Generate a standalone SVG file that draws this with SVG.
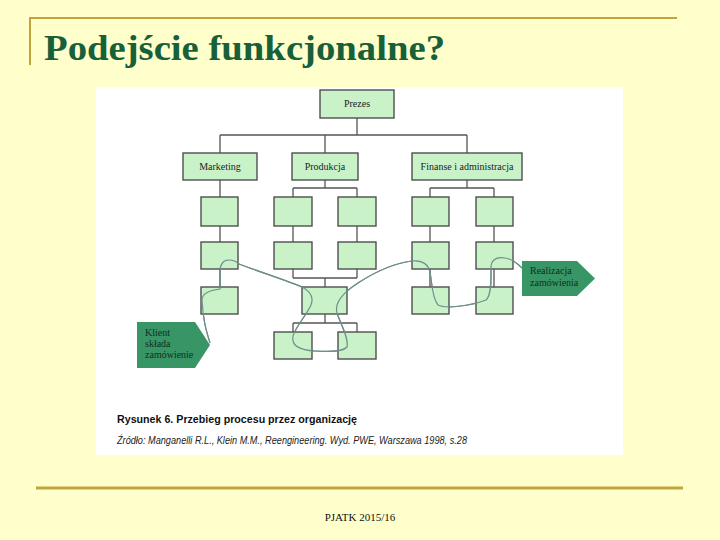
<svg xmlns="http://www.w3.org/2000/svg" width="720" height="540" viewBox="0 0 720 540">
<style>
.bx{fill:#c9f2c9;stroke:#4f4f4f;stroke-width:1.4}
.lbl{font-family:"Liberation Serif",serif;font-size:10px;fill:#222;text-anchor:middle}
.cn{stroke:#555;stroke-width:1.3;fill:none}
.arw{fill:#379566}
.at{font-family:"Liberation Serif",serif;font-size:10px;fill:#10301c}
.gold{stroke:#c3a43c;fill:none}
</style>
<rect width="720" height="540" fill="#ffffcc"/>
<path class="gold" stroke-width="2" d="M30,65 V18 H677"/>
<line class="gold" stroke-width="3" x1="36" y1="488" x2="683" y2="488"/>
<text x="44" y="60" font-family="Liberation Serif,serif" font-weight="bold" font-size="36" fill="#17603a" textLength="401" lengthAdjust="spacingAndGlyphs">Podejście funkcjonalne?</text>
<text x="360" y="521" font-family="Liberation Serif,serif" font-size="11" fill="#111" text-anchor="middle">PJATK 2015/16</text>
<rect x="96" y="87" width="527" height="368" fill="#ffffff"/>
<g id="connectors">
<path class="cn" d="M357,118V135M220,135H467M220,135V153M325,135V153M467,135V153"/>
<path class="cn" d="M220,180V197M220,226V242M220,269V287"/>
<path class="cn" d="M325,180V188M293,188H357M293,188V197M357,188V197M293,226V242M357,226V242M293,269V278M357,269V278M293,278H357M325,278V287M325,314V323M293,323H357M293,323V332M357,323V332"/>
<path class="cn" d="M467,180V188M430,188H494M430,188V197M494,188V197M430,226V242M494,226V242M430,269V287M494,269V287"/>
<path id="process" fill="none" stroke="#6f8f8c" stroke-width="1.2" d="M210,343 C206,330 203,320 202,300 C202,293 212,290 220,289 L220,272 C220,264 223,260 229,260 C234,260 237,262 239,264 C260,272 285,280 302,287 C310,291 314,297 311,305 C306,316 296,326 293,336 C291,346 300,350 315,351 C330,352 342,352 347,347 C349,338 341,325 337,313 C334,302 344,292 358,283 C375,272 395,263 412,261 C422,260 428,263 430,272 C432,283 432,298 438,305 C445,309 470,306 486,300 C492,295 491,276 491,266 C492,259 498,257 505,258 C512,259 518,264 522,268"/>
</g>
<g id="prezes"><rect class="bx" x="320" y="90" width="74" height="28"/><text class="lbl" x="357" y="107">Prezes</text></g>
<g id="marketing"><rect class="bx" x="183" y="153" width="74" height="27"/><text class="lbl" x="220" y="170">Marketing</text></g>
<g id="produkcja"><rect class="bx" x="292" y="153" width="66" height="27"/><text class="lbl" x="325" y="170">Produkcja</text></g>
<g id="finanse"><rect class="bx" x="412" y="153" width="110" height="27"/><text class="lbl" x="467" y="170">Finanse i administracja</text></g>
<g id="m1"><rect class="bx" x="201" y="197" width="37" height="29"/></g>
<g id="p1a"><rect class="bx" x="274" y="197" width="38" height="29"/></g>
<g id="p1b"><rect class="bx" x="338" y="197" width="38" height="29"/></g>
<g id="f1a"><rect class="bx" x="412" y="197" width="37" height="29"/></g>
<g id="f1b"><rect class="bx" x="476" y="197" width="37" height="29"/></g>
<g id="m2"><rect class="bx" x="201" y="242" width="37" height="27"/></g>
<g id="p2a"><rect class="bx" x="274" y="242" width="38" height="27"/></g>
<g id="p2b"><rect class="bx" x="338" y="242" width="38" height="27"/></g>
<g id="f2a"><rect class="bx" x="412" y="242" width="37" height="27"/></g>
<g id="f2b"><rect class="bx" x="476" y="242" width="37" height="27"/></g>
<g id="m3"><rect class="bx" x="201" y="287" width="37" height="27"/></g>
<g id="p3"><rect class="bx" x="302" y="287" width="45" height="27"/></g>
<g id="f3a"><rect class="bx" x="412" y="287" width="37" height="27"/></g>
<g id="f3b"><rect class="bx" x="476" y="287" width="37" height="27"/></g>
<g id="p4a"><rect class="bx" x="274" y="332" width="38" height="27"/></g>
<g id="p4b"><rect class="bx" x="338" y="332" width="38" height="27"/></g>
<use href="#process"/>
<g id="klient"><path class="arw" d="M137,322H195L210,345L195,368H137Z"/><text class="at" x="145" y="336">Klient</text><text class="at" x="145" y="347">składa</text><text class="at" x="145" y="358">zamówienie</text></g>
<g id="realizacja"><path class="arw" d="M522,261H577L595,278.5L577,296H522Z"/><text class="at" x="530" y="274">Realizacja</text><text class="at" x="530" y="286">zamówienia</text></g>
<text x="117" y="423" font-family="Liberation Sans,sans-serif" font-weight="bold" font-size="11" fill="#111" textLength="240" lengthAdjust="spacingAndGlyphs">Rysunek 6. Przebieg procesu przez organizację</text>
<text x="117" y="444" font-family="Liberation Sans,sans-serif" font-style="italic" font-size="11" fill="#222" textLength="350" lengthAdjust="spacingAndGlyphs">Źródło: Manganelli R.L., Klein M.M., Reengineering. Wyd. PWE, Warszawa 1998, s.28</text>
</svg>
